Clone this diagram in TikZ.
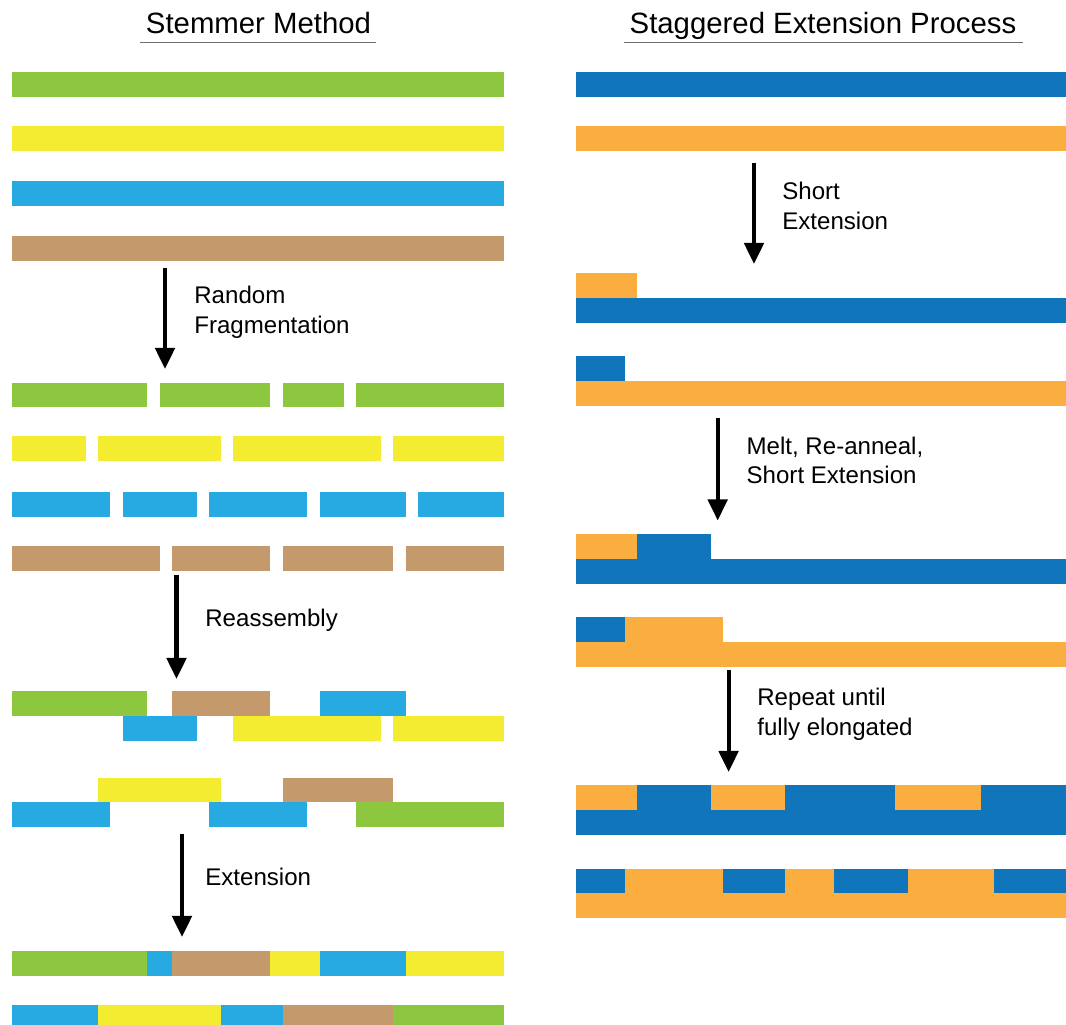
\documentclass[tikz,border=0pt]{standalone}
\usepackage{fontspec}
\setmainfont{Liberation Sans}
\usepackage{xcolor}
\usepackage{tikz}
\usetikzlibrary{arrows.meta,positioning}
\definecolor{stgreen}{RGB}{141,198,63}
\definecolor{styellow}{RGB}{244,236,48}
\definecolor{stblue}{RGB}{39,170,225}
\definecolor{stbrown}{RGB}{196,153,108}
\definecolor{sepblue}{RGB}{17,117,187}
\definecolor{seporange}{RGB}{251,174,64}
\definecolor{rulegray}{RGB}{110,110,110}

\begin{document}
\begin{tikzpicture}[
  x=0.2mm,y=-0.2mm,
  flow/.style={-{Triangle[length=12pt,width=11pt]},line width=2.3pt},
  lab/.style={anchor=base west,inner sep=0pt,align=left,font=\fontsize{13.7}{17}\selectfont},
  ttl/.style={anchor=base,inner sep=0pt,font=\fontsize{16.7}{20}\selectfont},
  rule/.style={line width=1.1pt,draw=rulegray}
]
\clip (0,0) rectangle (1066,1025);
\fill[white] (0,0) rectangle (1066,1025);

% titles
\node[ttl] (ttlL) at (258.5,34) {Stemmer Method};
\node[ttl] (ttlR) at (823,34) {Staggered Extension Process};
\draw[rule] (140,42.5) -- (376,42.5);
\draw[rule] (624,42.5) -- (1023,42.5);

% Stemmer method strands (40 grid units)
\begin{scope}[xshift=2.4mm,x=2.46mm]
\foreach \c/\y in {stgreen/72,styellow/126.5,stblue/181,stbrown/236}
  \fill[\c] (0,\y) rectangle (40,\y+24.8);
% fragments
\foreach \a/\b in {0/11,12/21,22/27,28/40}
  \fill[stgreen] (\a,382.7) rectangle (\b,407.5);
\foreach \a/\b in {0/6,7/17,18/30,31/40}
  \fill[styellow] (\a,436.4) rectangle (\b,461.2);
\foreach \a/\b in {0/8,9/15,16/24,25/32,33/40}
  \fill[stblue] (\a,492) rectangle (\b,516.8);
\foreach \a/\b in {0/12,13/21,22/31,32/40}
  \fill[stbrown] (\a,546) rectangle (\b,570.8);
% reassembly
\foreach \a/\b/\c in {0/11/stgreen,13/21/stbrown,25/32/stblue}
  \fill[\c] (\a,691) rectangle (\b,715.6);
\foreach \a/\b/\c in {9/15/stblue,18/30/styellow,31/40/styellow}
  \fill[\c] (\a,715.6) rectangle (\b,740.6);
\foreach \a/\b/\c in {7/17/styellow,22/31/stbrown}
  \fill[\c] (\a,777.7) rectangle (\b,802.3);
\foreach \a/\b/\c in {0/8/stblue,16/24/stblue,28/40/stgreen}
  \fill[\c] (\a,802.3) rectangle (\b,827.3);
% extension
\foreach \a/\b/\c in {0/11/stgreen,11/13/stblue,13/21/stbrown,21/25/styellow,25/32/stblue,32/40/styellow}
  \fill[\c] (\a,951) rectangle (\b,975.8);
\foreach \a/\b/\c in {0/7/stblue,7/17/styellow,17/22/stblue,22/31/stbrown,31/40/stgreen}
  \fill[\c] (\a,1005.4) rectangle (\b,1030.2);
\end{scope}

% staggered extension strands
\begin{scope}[xshift=115.1mm,x=2.46mm]
\fill[sepblue] (0,72) rectangle (40,96.8);
\fill[seporange] (0,126.5) rectangle (40,151.3);
% first short extension
\fill[seporange] (0,273) rectangle (5,297.6);
\fill[sepblue] (0,297.6) rectangle (40,322.6);
\fill[sepblue] (0,356.2) rectangle (4,380.8);
\fill[seporange] (0,380.8) rectangle (40,405.8);
% second round
\foreach \a/\b/\c in {0/5/seporange,5/11/sepblue}
  \fill[\c] (\a,534) rectangle (\b,558.8);
\fill[sepblue] (0,558.8) rectangle (40,583.8);
\foreach \a/\b/\c in {0/4/sepblue,4/12/seporange}
  \fill[\c] (\a,616.9) rectangle (\b,641.7);
\fill[seporange] (0,641.7) rectangle (40,666.7);
% fully elongated
\foreach \a/\b/\c in {0/5/seporange,5/11/sepblue,11/17/seporange,17/26/sepblue,26/33/seporange,33/40/sepblue}
  \fill[\c] (\a,785) rectangle (\b,809.7);
\fill[sepblue] (0,809.7) rectangle (40,834.7);
\foreach \a/\b/\c in {0/4/sepblue,4/12/seporange,12/17/sepblue,17/21/seporange,21/27/sepblue,27/34/seporange,34/40/sepblue}
  \fill[\c] (\a,868.5) rectangle (\b,893.2);
\fill[seporange] (0,893.2) rectangle (40,918.2);
\end{scope}

% arrow ends
\coordinate (a1s) at (165,268);   \coordinate (a1e) at (165,369);
\coordinate (a2s) at (176.5,575.5); \coordinate (a2e) at (176.5,679);
\coordinate (a3s) at (182,834);   \coordinate (a3e) at (182,937);
\coordinate (b1s) at (754,163);   \coordinate (b1e) at (754,264);
\coordinate (b2s) at (717.7,418); \coordinate (b2e) at (717.7,520.5);
\coordinate (b3s) at (728.6,670); \coordinate (b3e) at (728.6,772);

\draw[flow] (a1s) -- (a1e);
\draw[flow] (a2s) -- (a2e);
\draw[flow] (a3s) -- (a3e);
\draw[flow] (b1s) -- (b1e);
\draw[flow] (b2s) -- (b2e);
\draw[flow] (b3s) -- (b3e);

% step labels (base = last line)
\node[lab] (labFrag) at (194,333.5) {Random\\Fragmentation};
\node[lab] (labReas) at (205,626) {Reassembly};
\node[lab] (labExt) at (205,885) {Extension};
\node[lab] (labShort) at (782,229.5) {Short\\Extension};
\node[lab] (labMelt) at (746.3,484) {Melt, Re-anneal,\\Short Extension};
\node[lab] (labRep) at (757,735.5) {Repeat until\\fully elongated};
\end{tikzpicture}
\end{document}
